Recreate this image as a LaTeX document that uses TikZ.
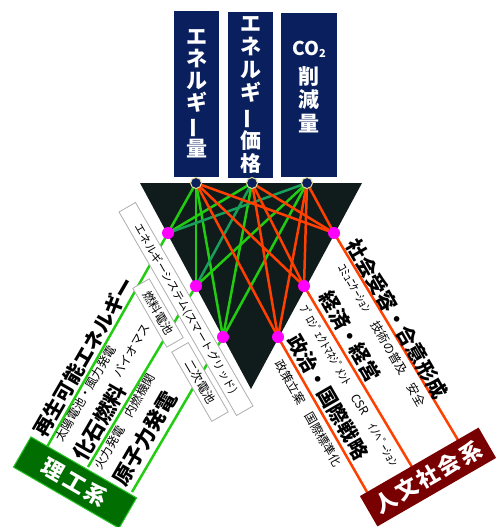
\documentclass[tikz,border=0pt]{standalone}
\usepackage{fontspec}
\newfontfamily\jp{Noto Sans CJK JP}
\definecolor{navy}{RGB}{10,31,94}
\definecolor{tridark}{RGB}{16,28,28}
\definecolor{lgreen}{RGB}{34,204,17}
\definecolor{tgreen}{RGB}{24,160,90}
\definecolor{lred}{RGB}{255,64,0}
\definecolor{mag}{RGB}{255,0,255}
\definecolor{dotrim}{RGB}{230,220,150}
\definecolor{rikogreen}{RGB}{0,110,0}
\definecolor{rikoedge}{RGB}{40,200,40}
\definecolor{jinred}{RGB}{120,0,0}
\definecolor{boxgrey}{RGB}{175,175,175}
\newcommand{\chouon}{\rotatebox[origin=c]{90}{ー}}
\pgfdeclarelayer{trilayer}
\pgfdeclarelayer{linelayer}
\pgfsetlayers{trilayer,linelayer,main}
\tikzset{
  topbox/.style={fill=navy, inner sep=0pt, text=white, align=center,
    font=\jp\bfseries\fontsize{21}{22}\selectfont},
  topdot/.style={circle, fill=navy, draw=dotrim, line width=1pt, inner sep=0pt, minimum size=11pt},
  mdot/.style={circle, fill=mag, inner sep=0pt, minimum size=12pt},
  gline/.style={draw=lgreen, line width=2.5pt},
  tline/.style={draw=tgreen, line width=2.5pt},
  rline/.style={draw=lred, line width=2.5pt},
  bigtxt/.style={inner sep=0pt, font=\jp\bfseries\fontsize{20}{22}\selectfont},
  smalltxt/.style={inner sep=0pt, font=\jp\fontsize{12}{14}\selectfont},
  wbox/.style={draw=boxgrey, fill=white, line width=0.8pt, rotate=-60, inner sep=0pt,
    minimum height=19pt, font=\jp\fontsize{11}{13}\selectfont},
  catbox/.style={inner sep=0pt, minimum height=35pt, text=white,
    font=\jp\bfseries\fontsize{22}{24}\selectfont}
}
\begin{document}
\begin{tikzpicture}[x=1pt,y=-1pt]
\useasboundingbox (0,0) rectangle (501,527);

% top boxes
\node[topbox, minimum width=45pt, minimum height=166pt] (q1) at (196.5,94)
  {エ\\ネ\\ル\\ギ\\\chouon\\量};
\node[topbox, minimum width=45pt, minimum height=166pt, font=\jp\bfseries\fontsize{21}{23.3}\selectfont] (q2) at (250.5,95)
  {エ\\ネ\\ル\\ギ\\\chouon\\価\\格};
\node[topbox, minimum width=56pt, minimum height=164pt, font=\jp\bfseries\fontsize{21}{23.5}\selectfont] (q3) at (309,95)
  {{\fontsize{19}{20}\selectfont CO\raisebox{-2pt}{\fontsize{11}{11}\selectfont 2}}\\[5pt]削\\減\\量\\[-6pt]\mbox{}};

% white boxes along the left edge
\node[wbox, minimum width=235pt] (sys) at (186,309) {エネルギーシステム(スマートグリッド)};
\node[wbox, minimum width=68pt, font=\jp\fontsize{12}{14}\selectfont] (fc) at (158,313) {燃料電池};
\node[wbox, minimum width=80pt, font=\jp\fontsize{12}{14}\selectfont] (bat) at (200,382) {二次電池};

% category boxes
\node[catbox, fill=rikogreen, draw=rikoedge, line width=1pt, minimum width=122pt, rotate=-30] (riko) at (75,482.5)
  {理\hspace{3pt}工\hspace{3pt}系};
\node[catbox, fill=jinred, minimum width=137pt, rotate=30] (jin) at (428,477)
  {人\hspace{2.5pt}文\hspace{2.5pt}社\hspace{2.5pt}会\hspace{2.5pt}系};

% dots
\node[topdot] (A) at (196,183) {};
\node[topdot] (B) at (252,183) {};
\node[topdot] (C) at (307,183) {};
\node[mdot] (L1) at (168,233) {};
\node[mdot] (L2) at (196,286) {};
\node[mdot] (L3) at (223,337) {};
\node[mdot] (R1) at (334,233) {};
\node[mdot] (R2) at (304,286) {};
\node[mdot] (R3) at (278,337) {};

% line ends at the category boxes
\coordinate (Le1) at (47,447);
\coordinate (Le2) at (88,467);
\coordinate (Le3) at (132,492);
\coordinate (Re1) at (458,440);
\coordinate (Re2) at (412,467);
\coordinate (Re3) at (367,492);

% texts right
\node[bigtxt, rotate=-60] (t1) at (397,319) {社会受容・合意形成};
\node[smalltxt, rotate=-60] (t2) at (382,335) {ｺﾐｭﾆｹｰｼｮﾝ　技術の普及　安全};
\node[bigtxt, rotate=-60] (t3) at (350.5,336.5) {経済・経営};
\node[smalltxt, rotate=-60] (t4) at (350,386) {ﾌﾟﾛｼﾞｪｸﾄﾏﾈｼﾞﾒﾝﾄ　CSR　ｲﾉﾍﾞｰｼｮﾝ};
\node[bigtxt, rotate=-60] (t5) at (328,397) {政治・国際戦略};
\node[smalltxt, rotate=-60] (t6) at (308.5,413.5) {政策立案　国際標準化};

% texts left
\node[bigtxt, rotate=60] (s1) at (84,357) {再生可能エネルギー};
\node[smalltxt, rotate=60] (s2) at (85.5,393.5) {太陽電池・風力発電};
\node[smalltxt, rotate=60] (s3) at (131.5,350.5) {バイオマス};
\node[bigtxt, rotate=60, font=\jp\bfseries\fontsize{21}{23}\selectfont] (s4) at (99.5,422.5) {化石燃料};
\node[smalltxt, rotate=60] (s5) at (125,421.5) {火力発電　内燃機関};
\node[bigtxt, rotate=60, font=\jp\bfseries\fontsize{21}{23}\selectfont] (s6) at (144.5,438.5) {原子力発電};

\begin{pgfonlayer}{trilayer}
  \fill[tridark] (140,183) -- (362,183) -- (251,389) -- cycle;
\end{pgfonlayer}

\begin{pgfonlayer}{linelayer}
  \draw[gline] (A.center) -- (L1.center);
  \draw[gline] (A.center) -- (L2.center);
  \draw[gline] (A.center) -- (L3.center);
  \draw[gline] (B.center) -- (L1.center);
  \draw[tline] (B.center) -- (L2.center);
  \draw[gline] (B.center) -- (L3.center);
  \draw[tline] (C.center) -- (L1.center);
  \draw[gline] (C.center) -- (L2.center);
  \draw[gline] (C.center) -- (L3.center);
  \draw[rline] (A.center) -- (R1.center);
  \draw[rline] (A.center) -- (R2.center);
  \draw[rline] (A.center) -- (R3.center);
  \draw[rline] (B.center) -- (R1.center);
  \draw[rline] (B.center) -- (R2.center);
  \draw[rline] (B.center) -- (R3.center);
  \draw[rline] (C.center) -- (R1.center);
  \draw[rline] (C.center) -- (R2.center);
  \draw[rline] (C.center) -- (R3.center);
  \draw[gline] (L1.center) -- (Le1);
  \draw[gline] (L2.center) -- (Le2);
  \draw[gline] (L3.center) -- (Le3);
  \draw[rline] (R1.center) -- (Re1);
  \draw[rline] (R2.center) -- (Re2);
  \draw[rline] (R3.center) -- (Re3);
\end{pgfonlayer}
\end{tikzpicture}
\end{document}
